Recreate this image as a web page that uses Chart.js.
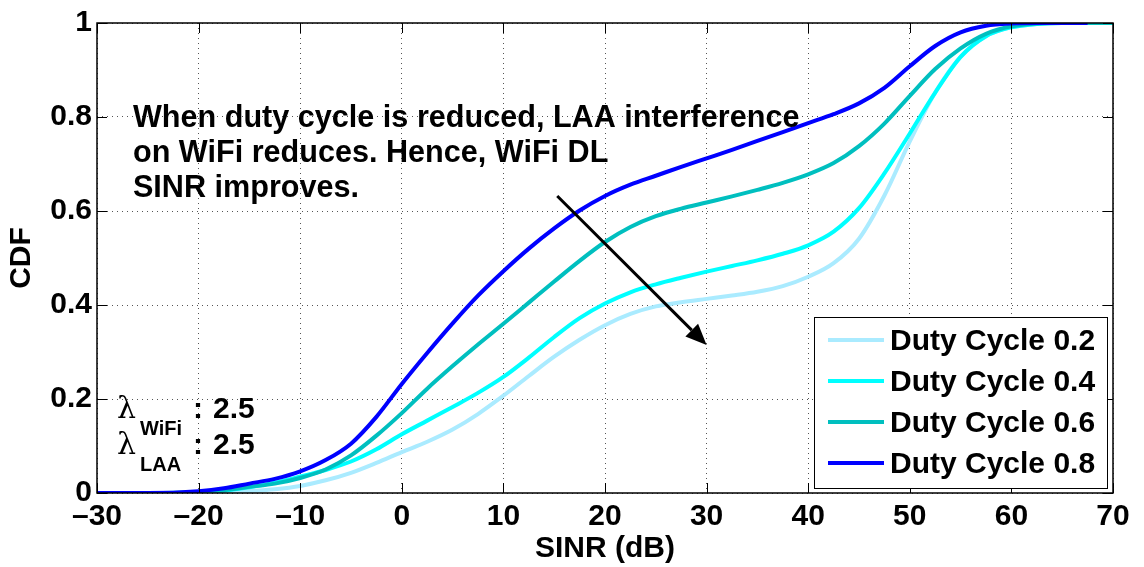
<!DOCTYPE html>
<html>
<head>
<meta charset="utf-8">
<script src="https://cdn.jsdelivr.net/npm/chart.js@4"></script>
<style>
  html, body { margin: 0; padding: 0; background: #fff; }
  #wrap { width: 1144px; height: 567px; }
</style>
</head>
<body>
<div id="wrap"><canvas id="cdfChart" width="1144" height="567"></canvas></div>
<script>
// SINR sample points (dB) shared by all curves
const sinrDb = [-30, -25, -20, -17.5, -15, -12.5, -10, -7.5, -5, -2.5, 0, 2.5, 5, 7.5, 10, 12.5,
  15, 17.5, 20, 22.5, 25, 27.5, 30, 32.5, 35, 37.5, 40, 42.5, 45, 47.5, 50, 52.5, 55, 57.5,
  60, 62.5, 65, 67.5, 70];

// CDF of WiFi DL SINR for each LAA duty cycle
const cdfDuty02 = [0, 0, 0, 0.001, 0.004, 0.008, 0.015, 0.027, 0.043, 0.064, 0.087, 0.109, 0.135, 0.168,
  0.207, 0.249, 0.29, 0.326, 0.357, 0.381, 0.397, 0.406, 0.413, 0.42, 0.428, 0.44, 0.46, 0.489,
  0.541, 0.633, 0.748, 0.852, 0.928, 0.972, 0.991, 0.998, 1, 1, 1];
const cdfDuty04 = [0, 0, 0.001, 0.005, 0.012, 0.022, 0.035, 0.049, 0.067, 0.093, 0.125, 0.154, 0.183, 0.213,
  0.247, 0.288, 0.332, 0.372, 0.403, 0.427, 0.444, 0.458, 0.471, 0.483, 0.495, 0.509, 0.527, 0.556,
  0.606, 0.68, 0.765, 0.852, 0.928, 0.972, 0.991, 0.998, 1, 1, 1];
const cdfDuty06 = [0, 0, 0.002, 0.006, 0.013, 0.02, 0.032, 0.05, 0.08, 0.122, 0.17, 0.222, 0.27, 0.316,
  0.36, 0.405, 0.45, 0.494, 0.534, 0.566, 0.589, 0.605, 0.618, 0.631, 0.645, 0.66, 0.678, 0.702,
  0.738, 0.786, 0.845, 0.902, 0.946, 0.977, 0.993, 0.999, 1, 1, 1];
const cdfDuty08 = [0, 0, 0.004, 0.01, 0.02, 0.03, 0.046, 0.07, 0.105, 0.162, 0.232, 0.298, 0.361, 0.42,
  0.472, 0.52, 0.563, 0.601, 0.632, 0.656, 0.675, 0.694, 0.712, 0.73, 0.749, 0.768, 0.787, 0.806,
  0.829, 0.862, 0.908, 0.951, 0.98, 0.994, 0.999, 1, 1, 1, null];

const seriesLabels = ['Duty Cycle 0.2', 'Duty Cycle 0.4', 'Duty Cycle 0.6', 'Duty Cycle 0.8'];
const seriesColors = ['#aaebff', '#00ffff', '#00bfbf', '#0000ff'];
const seriesValues = [cdfDuty02, cdfDuty04, cdfDuty06, cdfDuty08];

const xTickLabels = ['\u201330', '\u201320', '\u201310', '0', '10', '20', '30', '40', '50', '60', '70'];
const yTickLabels = ['0', '0.2', '0.4', '0.6', '0.8', '1'];

const noteLines = ['When duty cycle is reduced, LAA interference', 'on WiFi reduces. Hence, WiFi DL', 'SINR improves.'];
const arrowFrom = [15.3, 0.632];
const arrowTo = [30.0, 0.315];

const FONT = '"Liberation Sans", Arial, Helvetica, sans-serif';

function bold(size) {
  return `bold ${size}px ${FONT}`;
}

// MATLAB-like frame, inward ticks, text note, arrow and legend
const overlayPlugin = {
  id: 'overlay',
  afterDatasetsDraw(chart) {
    const { ctx, chartArea: a, scales } = chart;
    const xs = scales.x, ys = scales.y;
    ctx.save();

    // box + ticks on all four sides
    ctx.strokeStyle = '#000';
    ctx.lineWidth = 1.5;
    ctx.strokeRect(a.left, a.top, a.right - a.left, a.bottom - a.top);
    ctx.lineWidth = 1;
    const tl = 10;
    xs.ticks.forEach(t => {
      const px = Math.round(xs.getPixelForValue(t.value)) + 0.5;
      ctx.beginPath();
      ctx.moveTo(px, a.bottom); ctx.lineTo(px, a.bottom - tl);
      ctx.moveTo(px, a.top); ctx.lineTo(px, a.top + tl);
      ctx.stroke();
    });
    ys.ticks.forEach(t => {
      const py = Math.round(ys.getPixelForValue(t.value)) + 0.5;
      ctx.beginPath();
      ctx.moveTo(a.left, py); ctx.lineTo(a.left + tl, py);
      ctx.moveTo(a.right, py); ctx.lineTo(a.right - tl, py);
      ctx.stroke();
    });

    // explanatory note
    ctx.fillStyle = '#000';
    ctx.font = bold(30.6);
    ctx.textAlign = 'left';
    ctx.textBaseline = 'alphabetic';
    const nx = xs.getPixelForValue(-26.46);
    noteLines.forEach((line, i) => {
      ctx.fillText(line, nx, ys.getPixelForValue(0.778) + i * 35);
    });

    // arrow
    const x0 = xs.getPixelForValue(arrowFrom[0]), y0 = ys.getPixelForValue(arrowFrom[1]);
    const x1 = xs.getPixelForValue(arrowTo[0]), y1 = ys.getPixelForValue(arrowTo[1]);
    const ang = Math.atan2(y1 - y0, x1 - x0);
    const head = 21, half = 9;
    const bx = x1 - head * Math.cos(ang), by = y1 - head * Math.sin(ang);
    ctx.lineWidth = 3;
    ctx.beginPath();
    ctx.moveTo(x0, y0); ctx.lineTo(bx, by);
    ctx.stroke();
    ctx.beginPath();
    ctx.moveTo(x1, y1);
    ctx.lineTo(bx + half * Math.sin(ang), by - half * Math.cos(ang));
    ctx.lineTo(bx - half * Math.sin(ang), by + half * Math.cos(ang));
    ctx.closePath();
    ctx.fill();

    // lambda parameters
    const lx = xs.getPixelForValue(-28.03);
    [['WiFi', 0.159], ['LAA', 0.084]].forEach(([sub, v]) => {
      const by2 = ys.getPixelForValue(v);
      ctx.font = `30px "DejaVu Serif", "Liberation Serif", serif`;
      ctx.fillText('\u03bb', lx, by2);
      ctx.font = bold(20);
      ctx.fillText(sub, lx + 23, by2 + 17);
      ctx.font = bold(30);
      ctx.fillText(':', lx + 76, by2);
      ctx.fillText('2.5', lx + 96, by2);
    });

    // legend box in the lower right corner
    const lw = 293, lh = 171;
    const lr = a.right - 6, lb = a.bottom - 5;
    const lleft = lr - lw, ltop = lb - lh;
    ctx.fillStyle = '#fff';
    ctx.fillRect(lleft, ltop, lw, lh);
    ctx.strokeStyle = '#000';
    ctx.lineWidth = 1;
    ctx.strokeRect(lleft + 0.5, ltop + 0.5, lw, lh);
    ctx.font = bold(30);
    ctx.textBaseline = 'middle';
    seriesLabels.forEach((label, i) => {
      const cy = ltop + 23 + i * 41;
      ctx.strokeStyle = seriesColors[i];
      ctx.lineWidth = 4;
      ctx.beginPath();
      ctx.moveTo(lleft + 14, cy); ctx.lineTo(lleft + 70, cy);
      ctx.stroke();
      ctx.fillStyle = '#000';
      ctx.fillText(label, lleft + 76, cy + 2);
    });

    ctx.restore();
  }
};

const ctx = document.getElementById('cdfChart').getContext('2d');

new Chart(ctx, {
  type: 'line',
  data: {
    datasets: seriesValues.map((vals, i) => ({
      label: seriesLabels[i],
      data: sinrDb.map((x, j) => ({ x: x, y: vals[j] })),
      borderColor: seriesColors[i],
      backgroundColor: seriesColors[i],
      borderWidth: 4,
      pointRadius: 0,
      fill: false,
      cubicInterpolationMode: 'monotone',
      order: seriesValues.length - i
    }))
  },
  options: {
    responsive: false,
    animation: false,
    devicePixelRatio: 1,
    layout: { padding: { top: 13, right: 31, left: 0, bottom: 0 } },
    plugins: {
      legend: { display: false },
      tooltip: { enabled: false }
    },
    scales: {
      x: {
        type: 'linear',
        min: -30,
        max: 70,
        afterFit: scale => { scale.height = 74; },
        ticks: {
          stepSize: 10,
          padding: 6,
          color: '#000',
          font: { family: FONT, size: 30, weight: 'bold' },
          callback: (value, index) => xTickLabels[index]
        },
        grid: { color: '#555', lineWidth: 1, drawTicks: false },
        border: { display: false, dash: [1, 4] },
        title: {
          display: true,
          text: 'SINR (dB)',
          color: '#000',
          font: { family: FONT, size: 30, weight: 'bold' },
          padding: { top: 0, bottom: 0 }
        }
      },
      y: {
        min: 0,
        max: 1,
        afterFit: scale => { scale.width = 97; },
        ticks: {
          stepSize: 0.2,
          padding: 5,
          color: '#000',
          font: { family: FONT, size: 30, weight: 'bold' },
          callback: (value, index) => yTickLabels[index]
        },
        grid: { color: '#555', lineWidth: 1, drawTicks: false },
        border: { display: false, dash: [1, 4] },
        title: {
          display: true,
          text: 'CDF',
          color: '#000',
          font: { family: FONT, size: 30, weight: 'bold' },
          padding: { top: 4, bottom: 0 }
        }
      }
    }
  },
  plugins: [overlayPlugin]
});
</script>
</body>
</html>
